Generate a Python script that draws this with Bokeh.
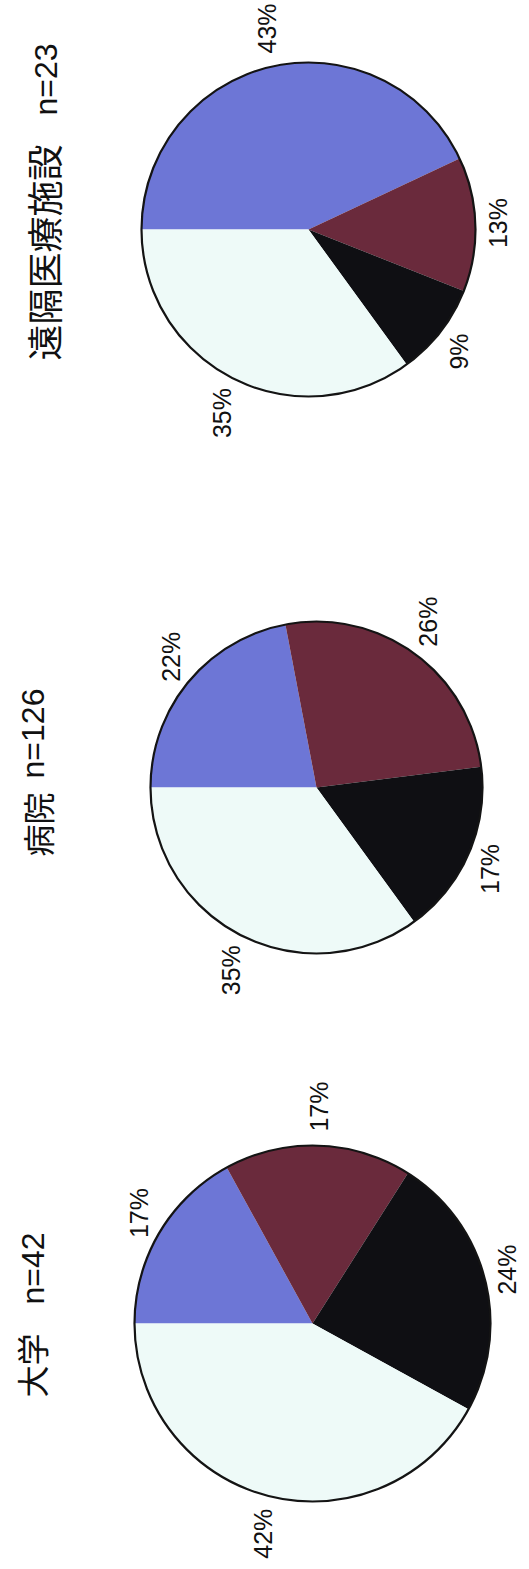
from math import pi, cos, sin
from bokeh.plotting import figure
from bokeh.models import Range1d, ColumnDataSource
from bokeh.core.properties import value
from bokeh.embed import file_html
from bokeh.resources import INLINE

# ---- data (percent shares) ----
groups = ["大学", "病院", "遠隔医療施設"]
n_values = [42, 126, 23]
share_blue = [17, 22, 43]
share_maroon = [17, 26, 13]
share_black = [24, 17, 9]
share_white = [42, 35, 35]

slice_colors = ["#6d76d6", "#6a2a3c", "#0f0f13", "#eefaf8"]

# ---- layout (picture coordinates, y measured downward) ----
W, H = 529, 1569
pie_cx = [312, 316, 308]
pie_cy = [1323, 787, 229]
pie_r = [178, 166, 167]
title_x_cjk = [30, 36, 42]
title_y_cjk = [1365, 824, 252]
title_x_n = [32, 32, 45]
title_y_n = [1268, 733, 79]
title_cjk_size = ["32px", "32px", "36px"]

p = figure(width=W, height=H, output_backend="svg", toolbar_location=None,
           x_range=Range1d(0, W), y_range=Range1d(0, H), min_border=0)
p.axis.visible = False
p.grid.visible = False
p.outline_line_color = None
p.background_fill_color = "white"
p.border_fill_color = "white"

wx, wy, ws, we, wc, wr = [], [], [], [], [], []
lx, ly, lt = [], [], []
label_font_px = 25
gap = 14
for i in range(len(groups)):
    cx = pie_cx[i]
    cy = H - pie_cy[i]
    r = pie_r[i]
    shares = [share_blue[i], share_maroon[i], share_black[i], share_white[i]]
    total = sum(shares)
    cum = 0.0
    for k, s in enumerate(shares):
        a0 = pi - 2 * pi * cum / total
        cum += s
        a1 = pi - 2 * pi * cum / total
        wx.append(cx); wy.append(cy)
        ws.append(a1); we.append(a0)
        wc.append(slice_colors[k]); wr.append(r)
        mid = (a0 + a1) / 2
        txt = f"{s}%"
        L = 0.556 * label_font_px * (len(txt) - 1) + 0.889 * label_font_px
        w = 0.72 * label_font_px
        dx, dy = cos(mid), sin(mid)
        lx.append(cx + dx * (r + gap) + dx * w / 2)
        ly.append(cy + dy * (r + gap) + dy * L / 2)
        lt.append(txt)

src = ColumnDataSource(dict(x=wx, y=wy, start=ws, end=we, color=wc, radius=wr))
p.wedge(x="x", y="y", radius="radius", start_angle="start", end_angle="end",
        fill_color="color", line_color=None, source=src)

# outline circles
p.circle(x=pie_cx, y=[H - v for v in pie_cy], radius=pie_r,
         fill_color=None, line_color="#141414", line_width=2.2)

# percent labels
p.text(x=lx, y=ly, text=lt, angle=pi / 2, text_align="center",
       text_baseline="middle", text_font=value("Liberation Sans"),
       text_font_size=f"{label_font_px}px", text_color="#111111")

# titles
for i in range(len(groups)):
    p.text(x=[title_x_cjk[i]], y=[H - title_y_cjk[i]], text=[groups[i]],
           angle=pi / 2, text_align="center", text_baseline="middle",
           text_font=value("Noto Sans CJK JP"),
           text_font_size=title_cjk_size[i], text_color="#111111")
    p.text(x=[title_x_n[i]], y=[H - title_y_n[i]], text=[f"n={n_values[i]}"],
           angle=pi / 2, text_align="center", text_baseline="middle",
           text_font=value("Liberation Sans"),
           text_font_size="32px", text_color="#111111")

open("out.html", "w").write(file_html(p, INLINE))
